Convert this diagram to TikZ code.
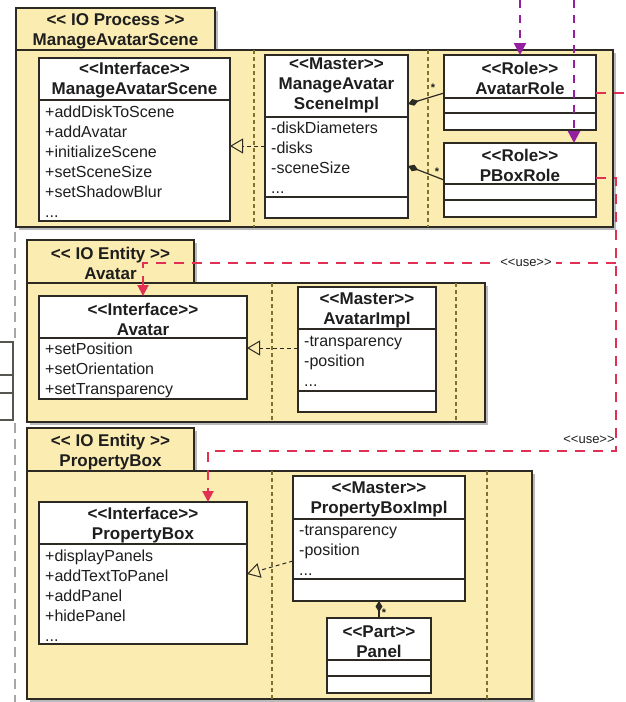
\documentclass[tikz,border=0pt]{standalone}
\usepackage{fontspec}
\newfontfamily\uf{Liberation Sans}
\usetikzlibrary{arrows.meta,shadows,calc}
\definecolor{pkgfill}{RGB}{251,236,178}
\definecolor{edge}{RGB}{45,42,35}
\definecolor{sepc}{RGB}{130,112,45}
\definecolor{usec}{RGB}{224,48,84}
\definecolor{purp}{RGB}{150,30,160}
\definecolor{txt}{RGB}{30,30,30}
\tikzset{
 pkg/.style={draw=edge, line width=1.3pt, fill=pkgfill, rectangle, anchor=north west, inner sep=0pt, outer sep=0pt, drop shadow={shadow xshift=2.5pt, shadow yshift=-2.5pt, opacity=0.45, fill=black!60}},
 cls/.style={draw=edge, line width=1.2pt, fill=white, rectangle, anchor=north west, inner sep=0pt, outer sep=0pt},
 divl/.style={draw=edge, line width=1.1pt},
 sepl/.style={draw=sepc, line width=1.1pt, dash pattern=on 4pt off 3pt},
 ttl/.style={font=\uf\bfseries\fontsize{17}{20}\selectfont, align=center, inner sep=0pt, text=txt},
 attr/.style={font=\uf\fontsize{16}{20}\selectfont, align=left, anchor=west, inner sep=0pt, text=txt},
 real/.style={draw=edge, line width=1pt, dash pattern=on 4pt off 3pt, -{Triangle[open, length=13pt, width=15pt, line width=1pt]}},
 comp/.style={draw=edge, line width=1.2pt, -{Diamond[fill=edge, length=11pt, width=7pt]}},
 star/.style={font=\uf\bfseries\fontsize{11}{11}\selectfont, inner sep=0pt, text=txt},
 use/.style={draw=usec, line width=2pt, dash pattern=on 10pt off 8pt},
 usearr/.style={use, -{Triangle[fill=usec, length=11pt, width=11pt]}},
 purl/.style={draw=purp, line width=2.2pt, dash pattern=on 8pt off 7pt, -{Triangle[fill=purp, length=12pt, width=12pt]}},
 ulbl/.style={font=\uf\fontsize{13}{14}\selectfont, inner sep=1pt, text=txt},
 leftdash/.style={draw=black!35, line width=2pt, dash pattern=on 10pt off 6pt},
}
\begin{document}
\begin{tikzpicture}[x=1pt,y=-1pt]
\fill[white] (0,0) rectangle (625,702);
\useasboundingbox (0,0) rectangle (625,702);

% left margin fragments
\coordinate (g1) at (15,232); \coordinate (g2) at (15,338);
\coordinate (g3) at (15,423); \coordinate (g4) at (15,702);
\draw[leftdash] (g1) -- (g2);
\draw[leftdash] (g3) -- (g4);
\draw[edge!80, line width=1.1pt] (0,342) -- (13,342) -- (13,420) -- (0,420);
\draw[edge!80, line width=1.1pt] (0,375) -- (13,375) (0,393) -- (13,393);

% ---------- Package 1 ----------
\node[pkg, minimum width=199pt, minimum height=42pt] (p1tab) at (16,8) {};
\node[pkg, minimum width=597pt, minimum height=177pt] (p1) at (16,50) {};
\node[ttl] (p1t) at (115.5,31.5) {<< IO Process >>\\ManageAvatarScene};
\draw[sepl] (254,50) -- (254,227);
\draw[sepl] (428,50) -- (428,227);

\node[cls, minimum width=191pt, minimum height=163pt] (masif) at (39,58) {};
\draw[divl] (masif.west |- 0,100) -- (masif.east |- 0,100);
\node[ttl] (masift) at (134.5,80) {<<Interface>>\\ManageAvatarScene};
\node[attr] (masifa) at (45,162) {+addDiskToScene\\+addAvatar\\+initializeScene\\+setSceneSize\\+setShadowBlur\\...};

\node[cls, minimum width=143pt, minimum height=163pt] (masimpl) at (265,55) {};
\draw[divl] (masimpl.west |- 0,117) -- (masimpl.east |- 0,117);
\draw[divl] (masimpl.west |- 0,197) -- (masimpl.east |- 0,197);
\node[ttl] (masimplt) at (336.5,85) {<<Master>>\\ManageAvatar\\SceneImpl};
\node[attr] (masimpla) at (271,158) {-diskDiameters\\-disks\\-sceneSize\\...};

\node[cls, minimum width=152pt, minimum height=75pt] (avrole) at (444,55) {};
\draw[divl] (avrole.west |- 0,98) -- (avrole.east |- 0,98);
\draw[divl] (avrole.west |- 0,113) -- (avrole.east |- 0,113);
\node[ttl] (avrolet) at (520,78) {<<Role>>\\AvatarRole};

\node[cls, minimum width=152pt, minimum height=74pt] (pbrole) at (444,143) {};
\draw[divl] (pbrole.west |- 0,184) -- (pbrole.east |- 0,184);
\draw[divl] (pbrole.west |- 0,200) -- (pbrole.east |- 0,200);
\node[ttl] (pbrolet) at (520,165.5) {<<Role>>\\PBoxRole};

% ---------- Package 2 ----------
\node[pkg, minimum width=167pt, minimum height=43pt] (p2tab) at (27,240) {};
\node[pkg, minimum width=458pt, minimum height=139pt] (p2) at (27,283) {};
\node[ttl] (p2t) at (110.5,263) {<< IO Entity >>\\Avatar};
\draw[sepl] (272,283) -- (272,422);
\draw[sepl] (456,283) -- (456,422);

\node[cls, minimum width=208pt, minimum height=103pt] (aviface) at (39,296) {};
\draw[divl] (aviface.west |- 0,338) -- (aviface.east |- 0,338);
\node[ttl] (avifacet) at (143,319.5) {<<Interface>>\\Avatar};
\node[attr] (avifacea) at (45,370) {+setPosition\\+setOrientation\\+setTransparency};

\node[cls, minimum width=138pt, minimum height=125pt] (avimpl) at (298,287) {};
\draw[divl] (avimpl.west |- 0,329) -- (avimpl.east |- 0,329);
\draw[divl] (avimpl.west |- 0,391) -- (avimpl.east |- 0,391);
\node[ttl] (avimplt) at (367,310) {<<Master>>\\AvatarImpl};
\node[attr] (avimpla) at (304,361.5) {-transparency\\-position\\...};

% ---------- Package 3 ----------
\node[pkg, minimum width=167pt, minimum height=43pt] (p3tab) at (27,428) {};
\node[pkg, minimum width=505pt, minimum height=228pt] (p3) at (27,471) {};
\node[ttl] (p3t) at (110.5,452) {<< IO Entity >>\\PropertyBox};
\draw[sepl] (272,471) -- (272,699);
\draw[sepl] (487,471) -- (487,699);

\node[cls, minimum width=208pt, minimum height=142pt] (pbiface) at (39,502) {};
\draw[divl] (pbiface.west |- 0,544) -- (pbiface.east |- 0,544);
\node[ttl] (pbifacet) at (143,525) {<<Interface>>\\PropertyBox};
\node[attr] (pbifacea) at (45,596) {+displayPanels\\+addTextToPanel\\+addPanel\\+hidePanel\\...};

\node[cls, minimum width=172pt, minimum height=125pt] (pbimpl) at (293,476) {};
\draw[divl] (pbimpl.west |- 0,519) -- (pbimpl.east |- 0,519);
\draw[divl] (pbimpl.west |- 0,579) -- (pbimpl.east |- 0,579);
\node[ttl] (pbimplt) at (379,499) {<<Master>>\\PropertyBoxImpl};
\node[attr] (pbimpla) at (299,550.5) {-transparency\\-position\\...};

\node[cls, minimum width=104pt, minimum height=75pt] (panel) at (327,618) {};
\draw[divl] (panel.west |- 0,660) -- (panel.east |- 0,660);
\draw[divl] (panel.west |- 0,676) -- (panel.east |- 0,676);
\node[ttl] (panelt) at (379,641.5) {<<Part>>\\Panel};

% ---------- connectors ----------
\draw[real] (masimpl.west |- 0,146) -- (masif.east |- 0,146);
\draw[real] (avimpl.west |- 0,348) -- (aviface.east |- 0,348);
\draw[real] (pbimpl.west |- 0,561) -- (pbiface.east |- 0,574);

\draw[comp] (avrole.west |- 0,93) -- (masimpl.east |- 0,104);
\draw[comp] (pbrole.west |- 0,180) -- (masimpl.east |- 0,166);
\draw[comp] (panel.north) -- (pbimpl.south);
\node[star] (s1) at (433,88) {*};
\node[star] (s2) at (437,172) {*};
\node[star] (s3) at (384,613) {*};

\coordinate (p1a) at (520,0);
\coordinate (p2a) at (574,0);
\draw[purl] (p1a) -- (avrole.north);
\draw[purl] (p2a) -- (pbrole.north -| p2a);

\coordinate (r1) at (625,93);
\coordinate (j1) at (616,178);
\coordinate (j2) at (616,263);
\coordinate (j3) at (616,451);
\draw[use] (avrole.east |- 0,93) -- (r1);
\draw[usearr] (pbrole.east |- 0,178) -- (j1) -- (j3) -| (pbiface.north -| 208,0);
\draw[usearr] (j2) -| (aviface.north -| 143,0);
\node[ulbl, fill=white, inner sep=4pt] (u1) at (526,263) {<<use>>};
\node[ulbl] (u2) at (589,440) {<<use>>};
\end{tikzpicture}
\end{document}
